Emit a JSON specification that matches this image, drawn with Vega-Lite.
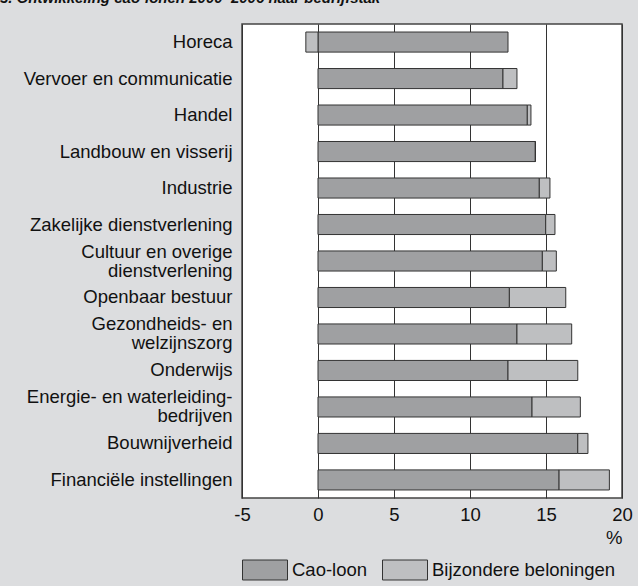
{
  "$schema": "https://vega.github.io/schema/vega-lite/v6.json",
  "width": 380,
  "height": 474,
  "autosize": {"type": "none"},
  "padding": {"left": 242, "top": 24, "right": 16, "bottom": 88},
  "background": "#dcdddf",
  "title": {
    "text": "3. Ontwikkeling cao-lonen 2000–2006 naar bedrijfstak",
    "anchor": "start",
    "frame": "group",
    "dx": -242,
    "offset": 18,
    "fontSize": 15,
    "fontWeight": "bold",
    "fontStyle": "italic",
    "color": "#111"
  },
  "data": {
    "values": [
      {"sector": "Horeca", "type": "Cao-loon", "value": 12.5, "o": 1},
      {"sector": "Horeca", "type": "Bijzondere beloningen", "value": -0.8, "o": 2},
      {"sector": "Vervoer en communicatie", "type": "Cao-loon", "value": 12.17, "o": 1},
      {"sector": "Vervoer en communicatie", "type": "Bijzondere beloningen", "value": 0.92, "o": 2},
      {"sector": "Handel", "type": "Cao-loon", "value": 13.77, "o": 1},
      {"sector": "Handel", "type": "Bijzondere beloningen", "value": 0.24, "o": 2},
      {"sector": "Landbouw en visserij", "type": "Cao-loon", "value": 14.3, "o": 1},
      {"sector": "Landbouw en visserij", "type": "Bijzondere beloningen", "value": 0, "o": 2},
      {"sector": "Industrie", "type": "Cao-loon", "value": 14.56, "o": 1},
      {"sector": "Industrie", "type": "Bijzondere beloningen", "value": 0.7, "o": 2},
      {"sector": "Zakelijke dienstverlening", "type": "Cao-loon", "value": 14.98, "o": 1},
      {"sector": "Zakelijke dienstverlening", "type": "Bijzondere beloningen", "value": 0.61, "o": 2},
      {"sector": "Cultuur en overige|dienstverlening", "type": "Cao-loon", "value": 14.76, "o": 1},
      {"sector": "Cultuur en overige|dienstverlening", "type": "Bijzondere beloningen", "value": 0.92, "o": 2},
      {"sector": "Openbaar bestuur", "type": "Cao-loon", "value": 12.59, "o": 1},
      {"sector": "Openbaar bestuur", "type": "Bijzondere beloningen", "value": 3.71, "o": 2},
      {"sector": "Gezondheids- en|welzijnszorg", "type": "Cao-loon", "value": 13.09, "o": 1},
      {"sector": "Gezondheids- en|welzijnszorg", "type": "Bijzondere beloningen", "value": 3.6, "o": 2},
      {"sector": "Onderwijs", "type": "Cao-loon", "value": 12.5, "o": 1},
      {"sector": "Onderwijs", "type": "Bijzondere beloningen", "value": 4.59, "o": 2},
      {"sector": "Energie- en waterleiding-|bedrijven", "type": "Cao-loon", "value": 14.08, "o": 1},
      {"sector": "Energie- en waterleiding-|bedrijven", "type": "Bijzondere beloningen", "value": 3.18, "o": 2},
      {"sector": "Bouwnijverheid", "type": "Cao-loon", "value": 17.09, "o": 1},
      {"sector": "Bouwnijverheid", "type": "Bijzondere beloningen", "value": 0.67, "o": 2},
      {"sector": "Financiële instellingen", "type": "Cao-loon", "value": 15.86, "o": 1},
      {"sector": "Financiële instellingen", "type": "Bijzondere beloningen", "value": 3.31, "o": 2}
    ]
  },
  "mark": {"type": "bar", "stroke": "#333", "strokeWidth": 1},
  "encoding": {
    "y": {
      "field": "sector",
      "type": "nominal",
      "sort": ["Horeca", "Vervoer en communicatie", "Handel", "Landbouw en visserij", "Industrie", "Zakelijke dienstverlening", "Cultuur en overige|dienstverlening", "Openbaar bestuur", "Gezondheids- en|welzijnszorg", "Onderwijs", "Energie- en waterleiding-|bedrijven", "Bouwnijverheid", "Financiële instellingen"],
      "scale": {"paddingInner": 0.45, "paddingOuter": 0.22},
      "axis": {
        "title": null,
        "ticks": false,
        "domain": false,
        "labelFontSize": 18.5,
        "labelColor": "#111",
        "labelPadding": 10,
        "labelLimit": 300,
        "labelLineHeight": 19,
        "labelOffset": {"condition": {"test": "indexof(datum.value, '|') >= 0", "value": -9.5}, "value": 0},
        "labelExpr": "split(datum.label, '|')"
      }
    },
    "x": {
      "field": "value",
      "type": "quantitative",
      "stack": "zero",
      "scale": {"domain": [-5, 20], "nice": false},
      "axis": {
        "values": [-5, 0, 5, 10, 15, 20],
        "labelExpr": "'' + datum.value",
        "grid": true,
        "gridColor": "#333",
        "gridWidth": 1,
        "gridOpacity": 1,
        "ticks": false,
        "domain": false,
        "labelFontSize": 18.5,
        "labelColor": "#111",
        "labelPadding": 7,
        "labelFlush": false,
        "title": "%",
        "titleAnchor": "end",
        "titleAlign": "right",
        "titleFontSize": 18.5,
        "titleFontWeight": "normal",
        "titleColor": "#111",
        "titlePadding": 5
      }
    },
    "color": {
      "field": "type",
      "type": "nominal",
      "scale": {"domain": ["Cao-loon", "Bijzondere beloningen"], "range": ["#9fa0a2", "#bebfc1"]},
      "legend": {
        "orient": "bottom",
        "direction": "horizontal",
        "title": null,
        "symbolType": "M-1,-0.444H1V0.444H-1Z",
        "symbolSize": 2025,
        "symbolStrokeColor": "#333",
        "symbolStrokeWidth": 1,
        "symbolOpacity": 1,
        "labelFontSize": 18.5,
        "labelColor": "#111",
        "labelLimit": 300,
        "labelOffset": 4,
        "columnPadding": 12,
        "gridAlign": "none",
        "offset": 0,
        "padding": 0
      }
    },
    "order": {"field": "o", "type": "quantitative"}
  },
  "config": {
    "font": "Liberation Sans",
    "view": {"fill": "white", "stroke": "#444", "strokeWidth": 1.5}
  }
}
